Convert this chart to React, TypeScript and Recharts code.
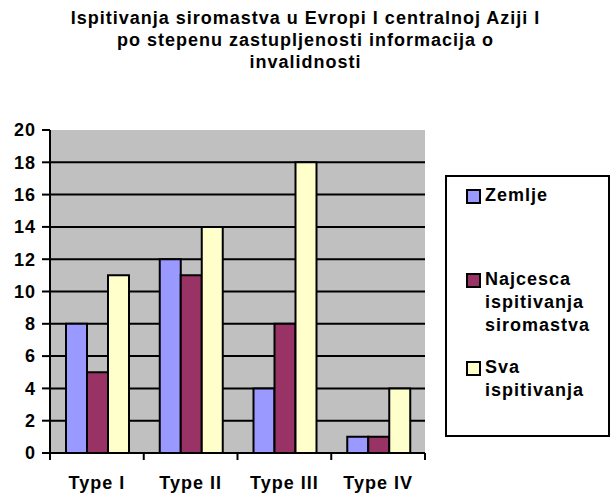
import React from 'react'
import { BarChart, Bar, XAxis, YAxis, CartesianGrid } from 'recharts'

const categories = ['Type I', 'Type II', 'Type III', 'Type IV']
const zemlje = [8, 12, 4, 1]
const najcesca = [5, 11, 8, 1]
const sva = [11, 14, 18, 4]
const yTicks = [0, 2, 4, 6, 8, 10, 12, 14, 16, 18, 20]

const seriesNames = ['Zemlje', 'Najcesca ispitivanja siromastva', 'Sva ispitivanja']
const seriesColors = ['#9999FF', '#993366', '#FFFFCC']

const data = categories.map((name, i) => ({
  name,
  zemlje: zemlje[i],
  najcesca: najcesca[i],
  sva: sva[i],
}))

const W = 611
const H = 498
const MARGIN = { top: 130, right: 186, bottom: 0, left: 0 }
const Y_AXIS_W = 50
const X_AXIS_H = 45
const PLOT_BOTTOM = H - MARGIN.bottom - X_AXIS_H
const BAND = (W - MARGIN.left - MARGIN.right - Y_AXIS_W) / categories.length

const font = '"Liberation Sans", Arial, sans-serif'

function XTick(props: any) {
  const { x, payload, index, visibleTicksCount } = props
  const half = BAND / 2
  return (
    <g>
      <line x1={x - half} x2={x - half} y1={PLOT_BOTTOM} y2={PLOT_BOTTOM + 7} stroke="#000" strokeWidth={2} />
      {index === visibleTicksCount - 1 && (
        <line x1={x + half} x2={x + half} y1={PLOT_BOTTOM} y2={PLOT_BOTTOM + 7} stroke="#000" strokeWidth={2} />
      )}
      <text
        x={x}
        y={PLOT_BOTTOM + 36}
        textAnchor="middle"
        fontSize={18}
        fontWeight="bold"
        fontFamily={font}
        letterSpacing={1}
        fill="#000"
      >
        {payload.value}
      </text>
    </g>
  )
}

function GridLine(props: any) {
  const { x1, x2, y1, y2, y } = props
  if (Math.abs(y1 - y) < 1) return <g />
  return <line x1={x1} x2={x2} y1={y1} y2={y2} stroke="#000" strokeWidth={2} />
}

const legendTop = [184, 268, 356]

export default function App() {
  return (
    <div style={{ position: 'absolute', left: 0, top: 0, width: W, height: H, background: '#fff', fontFamily: font }}>
      <div
        style={{
          position: 'absolute',
          left: 0,
          top: 7,
          width: W,
          textAlign: 'center',
          fontWeight: 'bold',
          fontSize: 18,
          letterSpacing: 1,
          lineHeight: '22px',
          color: '#000',
        }}
      >
        Ispitivanja siromastva u Evropi I centralnoj Aziji I
        <br />
        po stepenu zastupljenosti informacija o
        <br />
        invalidnosti
      </div>
      <BarChart width={W} height={H} data={data} margin={MARGIN} barGap={0} barCategoryGap={16}>
        <CartesianGrid vertical={false} horizontal={GridLine} fill="#C0C0C0" />
        <XAxis
          dataKey="name"
          height={X_AXIS_H}
          axisLine={{ stroke: '#000', strokeWidth: 2 }}
          tickLine={false}
          tick={XTick}
          interval={0}
        />
        <XAxis xAxisId="top" dataKey="name" orientation="top" height={0} tick={false} tickLine={false} axisLine={{ stroke: '#808080', strokeWidth: 2 }} />
        <YAxis
          width={Y_AXIS_W}
          domain={[0, 20]}
          ticks={yTicks}
          interval={0}
          tickSize={8}
          tickMargin={6}
          axisLine={{ stroke: '#000', strokeWidth: 2 }}
          tickLine={{ stroke: '#000', strokeWidth: 2 }}
          tick={{ fontSize: 18, fontWeight: 'bold', fill: '#000', fontFamily: font, letterSpacing: 1 }}
        />
        <YAxis yAxisId="right" orientation="right" width={0} tick={false} tickLine={false} axisLine={{ stroke: '#808080', strokeWidth: 2 }} />
        <Bar dataKey="zemlje" name={seriesNames[0]} fill={seriesColors[0]} stroke="#000" strokeWidth={2} isAnimationActive={false} />
        <Bar dataKey="najcesca" name={seriesNames[1]} fill={seriesColors[1]} stroke="#000" strokeWidth={2} isAnimationActive={false} />
        <Bar dataKey="sva" name={seriesNames[2]} fill={seriesColors[2]} stroke="#000" strokeWidth={2} isAnimationActive={false} />
      </BarChart>
      <div
        style={{
          position: 'absolute',
          left: 445,
          top: 175,
          width: 165,
          height: 262,
          border: '2px solid #000',
          boxSizing: 'border-box',
        }}
      />
      {seriesNames.map((name, i) => (
        <div
          key={name}
          style={{
            position: 'absolute',
            left: 466,
            top: legendTop[i],
            width: 142,
            display: 'flex',
            alignItems: 'flex-start',
            fontSize: 18,
            fontWeight: 'bold',
            letterSpacing: 1,
            lineHeight: '23px',
            color: '#000',
          }}
        >
          <span
            style={{
              display: 'inline-block',
              width: 11,
              height: 11,
              marginTop: 5,
              marginRight: 4,
              background: seriesColors[i],
              border: '2px solid #000',
              flexShrink: 0,
            }}
          />
          <span style={{ width: 122 }}>{name}</span>
        </div>
      ))}
    </div>
  )
}
